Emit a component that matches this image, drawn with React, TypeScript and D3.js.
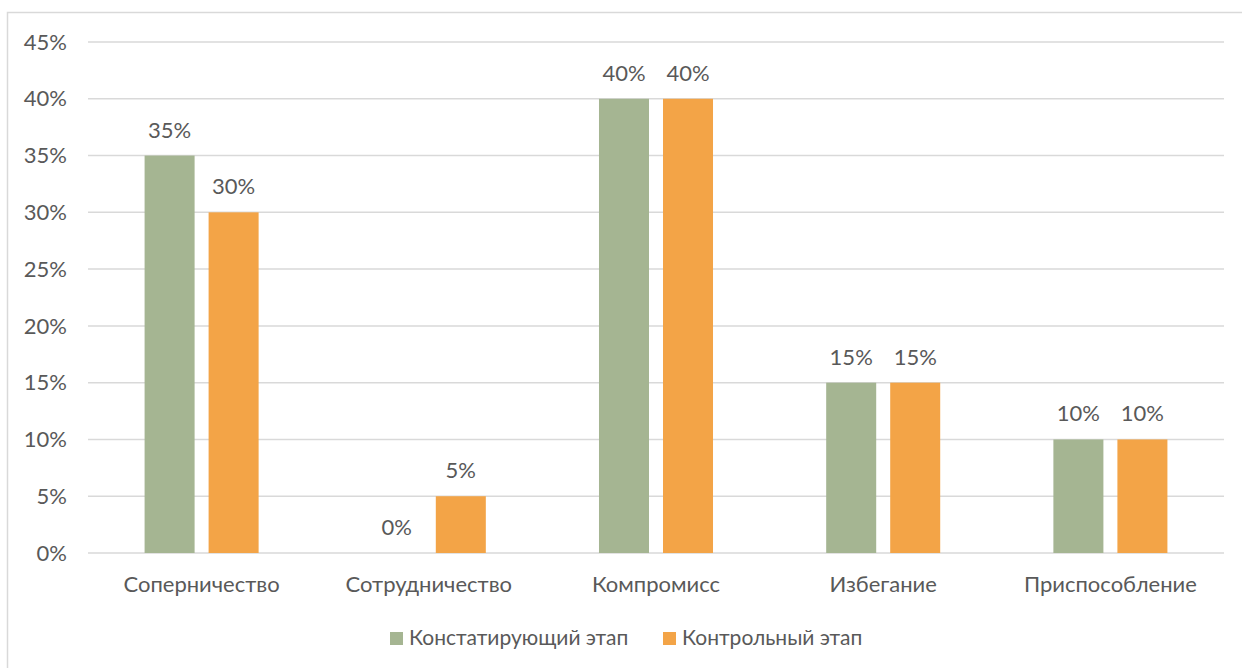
import React from "react";
import * as d3 from "d3";

const categories = ["Соперничество", "Сотрудничество", "Компромисс", "Избегание", "Приспособление"];
const seriesNames = ["Констатирующий этап", "Контрольный этап"];
const stage1 = [0.35, 0, 0.4, 0.15, 0.1];
const stage2 = [0.3, 0.05, 0.4, 0.15, 0.1];
const yTicks = [0, 0.05, 0.1, 0.15, 0.2, 0.25, 0.3, 0.35, 0.4, 0.45];
const colors = ["#A5B592", "#F3A447"];

const W = 1242;
const H = 668;
const plot = { left: 88, right: 1224, top: 42, bottom: 553 };
const textColor = "#595959";
const font = "Lato, 'Open Sans', sans-serif";

export default function App() {
  const x0 = d3.scaleBand<string>().domain(categories).range([plot.left, plot.right]);
  const x1 = d3
    .scaleBand<string>()
    .domain(seriesNames)
    .range([0, x0.bandwidth()])
    .paddingInner(0.21875)
    .paddingOuter(0.884);
  const y = d3.scaleLinear().domain([0, 0.45]).range([plot.bottom, plot.top]);
  const fmt = d3.format(".0%");
  const data = [stage1, stage2];

  return (
    <svg
      width={W}
      height={H}
      style={{ position: "absolute", left: 0, top: 0, background: "#fff" }}
      fontFamily={font}
    >
      <rect x={7.5} y={12.5} width={1240} height={660} fill="#fff" stroke="#D9D9D9" strokeWidth={1.5} />
      {yTicks.map((t) => (
        <g key={t}>
          <line x1={plot.left} x2={plot.right} y1={y(t)} y2={y(t)} stroke="#D9D9D9" strokeWidth={1.5} />
          <text x={plot.left - 21} y={y(t)} dy="0.35em" textAnchor="end" fontSize={22} fill={textColor}>
            {fmt(t)}
          </text>
        </g>
      ))}
      {categories.map((c, i) => (
        <g key={c}>
          {seriesNames.map((s, j) => {
            const v = data[j][i];
            const bx = (x0(c) ?? 0) + (x1(s) ?? 0);
            return (
              <g key={s}>
                <rect x={bx} y={y(v)} width={x1.bandwidth()} height={plot.bottom - y(v)} fill={colors[j]} />
                <text
                  x={bx + x1.bandwidth() / 2}
                  y={y(v) - 18}
                  textAnchor="middle"
                  fontSize={22}
                  fill={textColor}
                >
                  {fmt(v)}
                </text>
              </g>
            );
          })}
          <text
            x={(x0(c) ?? 0) + x0.bandwidth() / 2}
            y={592}
            textAnchor="middle"
            fontSize={22}
            fill={textColor}
          >
            {c}
          </text>
        </g>
      ))}
      {[
        { name: seriesNames[0], x: 390 },
        { name: seriesNames[1], x: 663 },
      ].map((l, j) => (
        <g key={l.name}>
          <rect x={l.x} y={632} width={13} height={13} fill={colors[j]} />
          <text x={l.x + 19} y={645} fontSize={21} fill={textColor}>
            {l.name}
          </text>
        </g>
      ))}
    </svg>
  );
}
